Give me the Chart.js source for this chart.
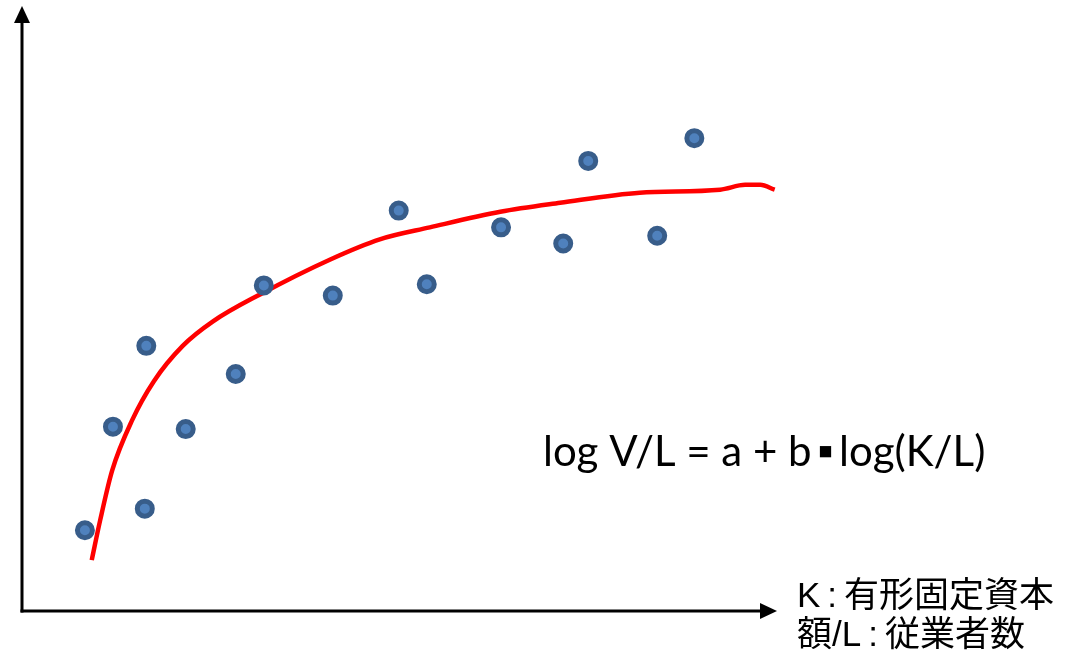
<!DOCTYPE html>
<html>
<head>
<meta charset="utf-8">
<script src="https://cdn.jsdelivr.net/npm/chart.js@4/dist/chart.umd.min.js"></script>
<style>
  html, body { margin: 0; padding: 0; background: #fff; }
  #wrap { width: 1078px; height: 655px; }
</style>
</head>
<body>
<div id="wrap"><canvas id="myChart"></canvas></div>
<script>
// observed points (K/L vs V/L, arbitrary units)
const pointX = [0.83, 1.20, 1.64, 1.62, 2.16, 2.82, 3.19, 4.10, 4.97, 5.34, 6.32, 7.14, 7.47, 8.38, 8.87];
const pointY = [1.35, 3.08, 4.43, 1.71, 3.04, 3.96, 5.44, 5.27, 6.69, 5.46, 6.41, 6.14, 7.52, 6.27, 7.90];

// fitted curve (hand-drawn in the original)
const curveX = [0.92, 1.03, 1.19, 1.45, 1.74, 2.12, 2.52, 3.14, 4.06, 4.72, 5.38, 6.31, 7.10, 8.15, 9.21, 9.54, 9.74, 9.93];
const curveY = [0.85, 1.51, 2.35, 3.18, 3.84, 4.43, 4.84, 5.29, 5.87, 6.21, 6.41, 6.67, 6.82, 6.99, 7.04, 7.12, 7.12, 7.04];

const formula = "log V/L = a + b\u2009\u25AA\u2009log(K/L)";
const axisLabel = ["K\u2009:\u2009有形固定資本", "額/L\u2009:\u2009従業者数"];

const toXY = (xs, ys) => xs.map((x, i) => ({ x: x, y: ys[i] }));

// draws the arrow axes and the text labels
const decorations = {
  id: "decorations",
  afterDraw(chart) {
    const { ctx, chartArea } = chart;
    const left = chartArea.left, bottom = chartArea.bottom;
    ctx.save();
    ctx.strokeStyle = "#000";
    ctx.fillStyle = "#000";
    ctx.lineWidth = 3;
    // y axis
    ctx.beginPath();
    ctx.moveTo(left, bottom + 1.5);
    ctx.lineTo(left, 20);
    ctx.stroke();
    ctx.beginPath();
    ctx.moveTo(left, 6);
    ctx.lineTo(left - 8, 23);
    ctx.lineTo(left + 8, 23);
    ctx.closePath();
    ctx.fill();
    // x axis
    ctx.beginPath();
    ctx.moveTo(left - 1.5, bottom);
    ctx.lineTo(762, bottom);
    ctx.stroke();
    ctx.beginPath();
    ctx.moveTo(777, bottom);
    ctx.lineTo(760, bottom - 8);
    ctx.lineTo(760, bottom + 8);
    ctx.closePath();
    ctx.fill();

    ctx.textBaseline = "alphabetic";
    ctx.font = "42px Lato, 'Open Sans', sans-serif";
    ctx.fillText(formula, 543, 466);

    ctx.font = "35px 'Liberation Sans', 'Noto Sans CJK JP', sans-serif";
    ctx.fillText(axisLabel[0], 797, 607);
    ctx.fillText(axisLabel[1], 797, 646);
    ctx.restore();
  }
};

const ctx = document.getElementById("myChart").getContext("2d");
const myChart = new Chart(ctx, {
  type: "scatter",
  data: {
    datasets: [
      {
        label: "points",
        data: toXY(pointX, pointY),
        backgroundColor: "#4f81bd",
        borderColor: "#385d8a",
        borderWidth: 5,
        pointRadius: 7.5,
        pointHoverRadius: 7.5,
        order: 1,
      },
      {
        label: "fit",
        type: "line",
        data: toXY(curveX, curveY),
        borderColor: "#ff0000",
        borderWidth: 4.5,
        pointRadius: 0,
        fill: false,
        tension: 0.4,
        cubicInterpolationMode: "monotone",
        order: 2,
      },
    ],
  },
  options: {
    responsive: true,
    maintainAspectRatio: false,
    animation: false,
    layout: { padding: { left: 22, top: 10, right: 298, bottom: 44 } },
    plugins: {
      legend: { display: false },
      tooltip: { enabled: false },
    },
    scales: {
      x: { type: "linear", min: 0, max: 10, display: false },
      y: { type: "linear", min: 0, max: 10, display: false },
    },
  },
  plugins: [decorations],
});
</script>
</body>
</html>
